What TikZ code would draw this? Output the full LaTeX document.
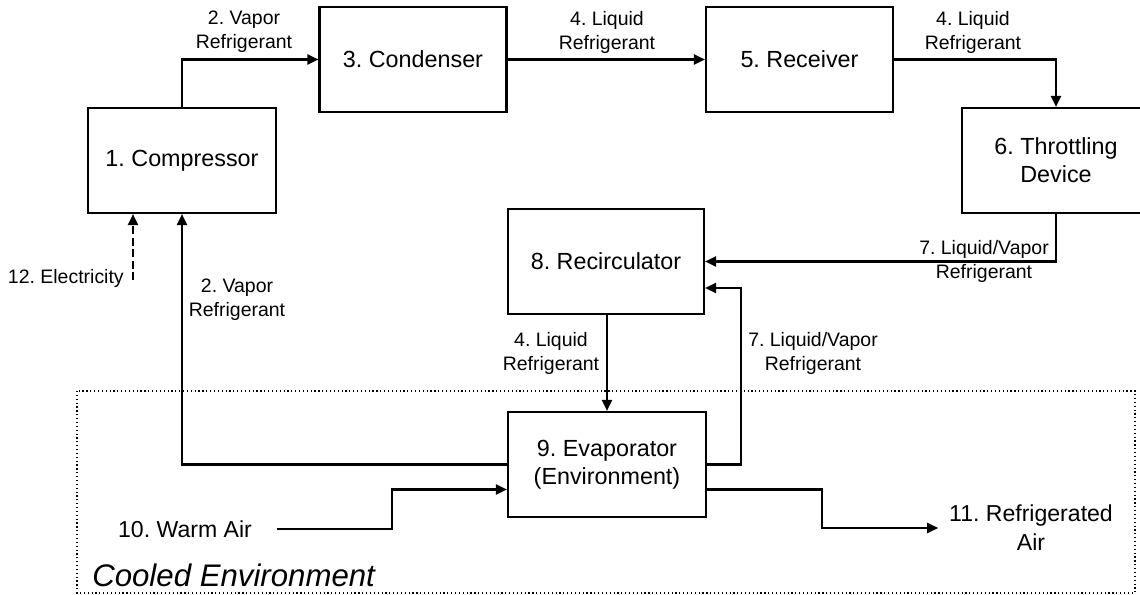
\documentclass[tikz,border=0pt]{standalone}
\usepackage{fontspec}
\setmainfont{Liberation Sans}
\usetikzlibrary{arrows.meta,calc}
\begin{document}
\frenchspacing
\begin{tikzpicture}[x=0.75pt,y=-0.75pt,
  box/.style={draw,line width=1.6pt,minimum height=78.75pt,align=center,inner sep=2pt,
    font=\fontsize{17.5}{21}\selectfont},
  lbl/.style={align=center,inner sep=0pt,font=\fontsize{14.6}{18}\selectfont},
  big/.style={align=center,inner sep=0pt,font=\fontsize{17.3}{21.75}\selectfont},
  conn/.style={line width=1.6pt,-{Triangle[length=8.25pt,width=7.5pt]}}]
\useasboundingbox (0,0) rectangle (1140,595);
% cooled environment region
\draw[line width=0.9pt,dotted] (77,391) rectangle (1135,593);
\node[anchor=base west,inner sep=0pt,font=\fontsize{23.4}{28}\selectfont\itshape] (cool) at (92,586) {Cooled Environment};
% boxes
\node[box,minimum width=141pt] (comp) at (182,160.5) {1. Compressor};
\node[box,minimum width=140.25pt] (cond) at (413,59.5) {3. Condenser};
\node[box,minimum width=140.25pt] (recv) at (799.5,59.5) {5. Receiver};
\node[box,minimum width=141pt] (thr) at (1056,160.5) {6. Throttling\\Device};
\node[box,minimum width=147pt] (rec) at (606,261.5) {8. Recirculator};
\node[box,minimum width=148.5pt] (evap) at (607,464.5) {9. Evaporator\\(Environment)};
% free text
\node[lbl,anchor=east] (elec) at (124,278) {12. Electricity};
\node[big] (warm) at (185,529) {10. Warm Air};
\node[big,inner sep=8pt] (refr) at (1031,527.5) {11. Refrigerated\\Air};
% labels
\node[lbl] (l1) at (244,32) {2. Vapor\\Refrigerant};
\node[lbl] (l2) at (607,32) {4. Liquid\\Refrigerant};
\node[lbl] (l3) at (973,32) {4. Liquid\\Refrigerant};
\node[lbl] (l4) at (984,261.5) {7. Liquid/Vapor\\Refrigerant};
\node[lbl] (l5) at (237,300) {2. Vapor\\Refrigerant};
\node[lbl] (l6) at (551,353.5) {4. Liquid\\Refrigerant};
\node[lbl] (l7) at (813,353.5) {7. Liquid/Vapor\\Refrigerant};
% coordinates
\coordinate (e0) at (133,280);
\coordinate (ws) at (277,529);
\coordinate (wt) at (392,529);
\coordinate (rt) at (822,528);
\coordinate (ut) at (741,288);
% connectors
\draw[conn] (comp.north) |- (cond.west);
\draw[conn] (cond.east) -- (recv.west);
\draw[conn] (recv.east) -| (thr.north);
\draw[conn] (thr.south) |- (rec.east);
\draw[conn] (evap.east) -| (ut) -- (ut -| rec.east);
\draw[conn] (evap.north |- rec.south) -- (evap.north);
\draw[conn] (evap.west) -| (comp.south);
\draw[line width=1.6pt,dash pattern=on 6pt off 2.6pt,-{Triangle[length=8.25pt,width=7.5pt]}] (e0) -- (e0 |- comp.south);
\draw[conn] (ws) -- (wt) |- ($(evap.west)+(0,25)$);
\draw[conn] ($(evap.east)+(0,25)$) -| (rt) -- (rt -| refr.west);
\end{tikzpicture}
\end{document}
